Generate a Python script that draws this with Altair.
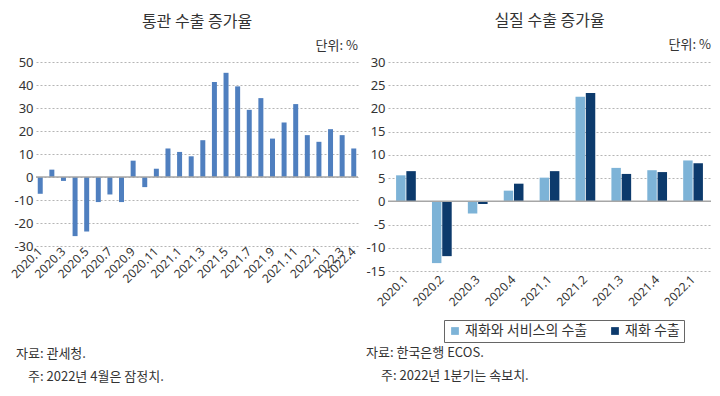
import altair as alt
import pandas as pd

FONT = "Noto Sans CJK KR"
NUMFONT = "Noto Sans"
TXT = "#333333"

# ---------------- data ----------------
months = ["2020.1", "2020.2", "2020.3", "2020.4", "2020.5", "2020.6", "2020.7",
          "2020.8", "2020.9", "2020.10", "2020.11", "2020.12",
          "2021.1", "2021.2", "2021.3", "2021.4", "2021.5", "2021.6", "2021.7",
          "2021.8", "2021.9", "2021.10", "2021.11", "2021.12",
          "2022.1", "2022.2", "2022.3", "2022.4"]
customs_growth = [-7.3, 3.2, -1.7, -25.7, -23.7, -10.9, -7.6, -10.9, 7.1, -4.4,
                  3.6, 12.4, 10.9, 9.0, 16.0, 41.3, 45.3, 39.4, 29.2, 34.3,
                  16.7, 23.7, 31.7, 18.2, 15.3, 20.8, 18.2, 12.4]
month_ticks = ["2020.1", "2020.3", "2020.5", "2020.7", "2020.9", "2020.11",
               "2021.1", "2021.3", "2021.5", "2021.7", "2021.9", "2021.11",
               "2022.1", "2022.3", "2022.4"]
left_y_ticks = [-30, -20, -10, 0, 10, 20, 30, 40, 50]

quarters = ["2020.1", "2020.2", "2020.3", "2020.4", "2021.1", "2021.2",
            "2021.3", "2021.4", "2022.1"]
goods_services = [5.6, -13.3, -2.6, 2.3, 5.1, 22.5, 7.2, 6.7, 8.8]
goods_only = [6.5, -11.8, -0.6, 3.8, 6.5, 23.3, 5.9, 6.3, 8.2]
series_names = ["재화와 서비스의 수출", "재화 수출"]
right_y_ticks = [-15, -10, -5, 0, 5, 10, 15, 20, 25, 30]

left_title = "통관 수출 증가율"
right_title = "실질 수출 증가율"
unit_label = ["단위: %"]
left_source = ["자료: 관세청."]
left_note = ["주: 2022년 4월은 잠정치."]
right_source = ["자료: 한국은행 ECOS."]
right_note = ["주: 2022년 1분기는 속보치."]


def text_layer(lines, x, y, align="left"):
    return alt.Chart(pd.DataFrame({"t": lines})).mark_text(
        font=FONT, fontSize=13, color=TXT, align=align, baseline="middle").encode(
        text="t:N", x=alt.value(x), y=alt.value(y))


def y_axis(vals):
    return alt.Axis(values=vals, domain=False, ticks=False, labelFont=NUMFONT,
                    labelFontSize=13, labelColor=TXT, labelPadding=3,
                    labelOverlap=False, labelFlush=False, labelExpr="datum.value",
                    gridColor="#b5b5b5", gridDash=[2, 2], gridWidth=1, title=None)


xaxis_common = dict(labelAngle=-45, labelAlign="right", labelBaseline="middle",
                    domain=False, ticks=False, labelFont=NUMFONT, labelFontSize=12,
                    labelColor=TXT, labelOverlap=False, title=None, grid=False)

# ---------------- left panel ----------------
LW, LH = 322, 184
df1 = pd.DataFrame({"month": months, "value": customs_growth})
yscale1 = alt.Scale(domain=[-30, 50], nice=False)

bars1 = alt.Chart(df1).mark_bar(color="#4f7fbf").encode(
    x=alt.X("month:N", sort=months,
            scale=alt.Scale(paddingInner=0.57, paddingOuter=0.15),
            axis=alt.Axis(values=month_ticks, labelPadding=3, **xaxis_common)),
    y=alt.Y("value:Q", scale=yscale1, axis=y_axis(left_y_ticks)),
)
zero1 = alt.Chart(pd.DataFrame({"value": [0]})).mark_rule(
    color="#a6a6a6", strokeWidth=1.5).encode(
    y=alt.Y("value:Q", scale=yscale1, axis=y_axis(left_y_ticks)))

left = alt.layer(
    bars1, zero1,
    text_layer(unit_label, LW, -16, "right"),
    text_layer(left_source, -20, 292),
    text_layer(left_note, -8, 315),
).properties(
    width=LW, height=LH,
    title=alt.TitleParams(left_title, font=FONT, fontSize=16, fontWeight="normal",
                          color=TXT, anchor="middle", offset=10))

# ---------------- right panel ----------------
RW, RH = 323, 209
rows = []
for q, a, b in zip(quarters, goods_services, goods_only):
    rows.append({"quarter": q, "series": series_names[0], "value": a})
    rows.append({"quarter": q, "series": series_names[1], "value": b})
df2 = pd.DataFrame(rows)
yscale2 = alt.Scale(domain=[-15, 30], nice=False)

bars2 = alt.Chart(df2).mark_bar().encode(
    x=alt.X("quarter:N", sort=quarters,
            scale=alt.Scale(paddingInner=0.45, paddingOuter=0.225),
            axis=alt.Axis(labelPadding=6, **xaxis_common)),
    xOffset=alt.XOffset("series:N", sort=series_names,
                        scale=alt.Scale(paddingInner=0.08)),
    y=alt.Y("value:Q", scale=yscale2, axis=y_axis(right_y_ticks)),
    color=alt.Color("series:N",
                    scale=alt.Scale(domain=series_names, range=["#7db3d7", "#0c3a6c"]),
                    legend=alt.Legend(orient="none", legendX=408, legendY=258,
                                      direction="horizontal", title=None,
                                      strokeColor="#666666", padding=4,
                                      symbolType="square", symbolSize=60,
                                      symbolStrokeWidth=0, labelFont=FONT,
                                      labelFontSize=14, labelColor=TXT,
                                      columnPadding=20, labelOffset=3)),
)
zero2 = alt.Chart(pd.DataFrame({"value": [0]})).mark_rule(
    color="#a6a6a6", strokeWidth=1.5).encode(
    y=alt.Y("value:Q", scale=yscale2, axis=y_axis(right_y_ticks)))

right = alt.layer(
    bars2, zero2,
    text_layer(unit_label, RW, -17, "right"),
    text_layer(right_source, -22, 291),
    text_layer(right_note, -7, 314),
).properties(
    width=RW, height=RH,
    title=alt.TitleParams(right_title, font=FONT, fontSize=16, fontWeight="normal",
                          color=TXT, anchor="middle", offset=10))

chart = alt.hconcat(left, right, spacing=6).properties(
    padding={"left": 0, "top": 5, "right": 0, "bottom": 0},
    background="white",
).configure_view(stroke=None)

chart.save("out.html", embed_options={"renderer": "svg", "actions": False})
